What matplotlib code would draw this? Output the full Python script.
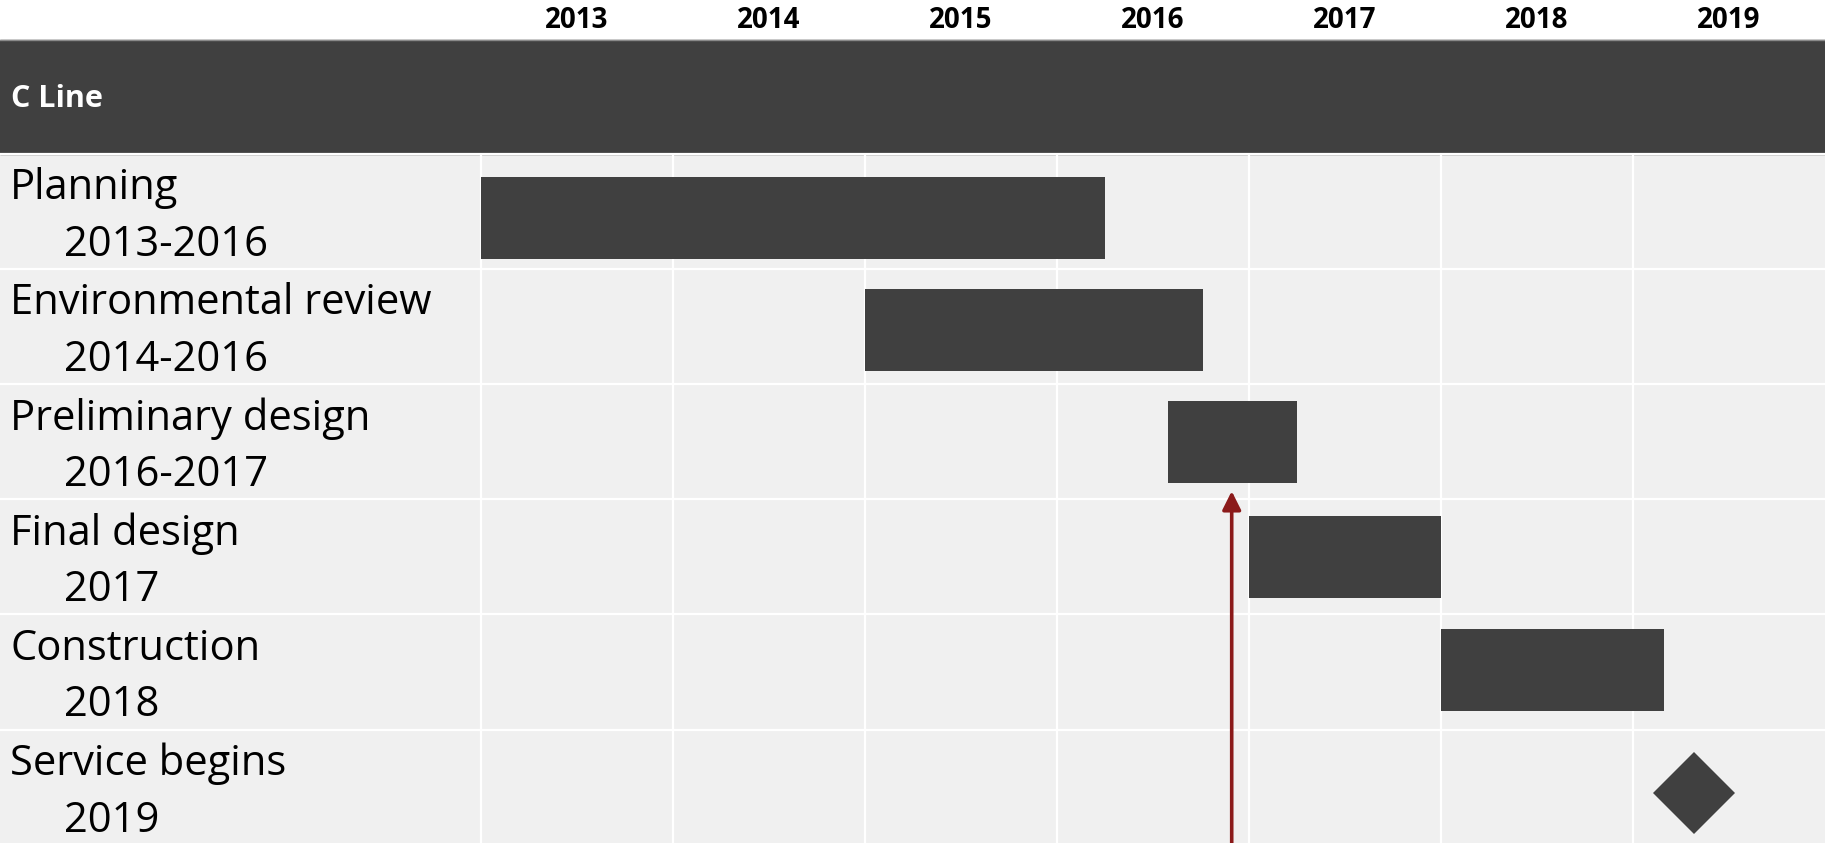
import matplotlib.pyplot as plt

plt.rcParams['font.family'] = ['Open Sans', 'DejaVu Sans']

# //////////DADOS/////////
years = [2013, 2014, 2015, 2016, 2017, 2018, 2019]
tasks = ["Planning", "Environmental review", "Preliminary design",
         "Final design", "Construction", "Service begins"]
periods = ["2013-2016", "2014-2016", "2016-2017", "2017", "2018", "2019"]
starts = [2013.0, 2015.0, 2016.58, 2017.0, 2018.0]
ends = [2016.25, 2016.76, 2017.25, 2018.0, 2019.16]
milestone = 2019.32
today = 2016.91
project = "C Line"

dark = '#404040'
bg = '#f0f0f0'

# pequeno deslocamento vertical de cada barra dentro da linha (layout)
bar_nudge = [0.06, 0.03, 0.0, 0.0, -0.02]

fig = plt.figure(figsize=(18.25, 8.43), dpi=100)
ax = fig.add_axes([0, 0, 1, 1])
ax.set_xlim(2010.495, 2020.0)
ax.set_ylim(5.984, -1.333)
ax.axis('off')

# fundo e faixa do titulo
ax.axhspan(0, 7, color=bg, zorder=0)
ax.axhspan(-0.99, 0, color=dark, zorder=1)
ax.axhline(-0.99, color='#8a8a8a', linewidth=1, zorder=2)

# linhas de grade
for i in range(len(tasks) + 1):
    ax.axhline(i, color='white', linewidth=1.6, zorder=1)
ax.vlines(years, 0, 7, color='white', linewidth=1.6, zorder=1)

# anos
for y in years:
    ax.text(y + 0.5, -1.155, str(y), ha='center', va='center',
            fontsize=20, fontweight='bold', color='black')

ax.text(2010.495 + 11 / 192, -0.47, project, ha='left', va='center',
        fontsize=22, fontweight='bold', color='white', zorder=3)

# rotulos das tarefas
for i, (t, p) in enumerate(zip(tasks, periods)):
    ax.text(2010.495 + 10 / 192, i + 0.30, t, ha='left', va='center',
            fontsize=30, color='black')
    ax.text(2010.495 + 64 / 192, i + 0.79, p, ha='left', va='center',
            fontsize=30, color='black')

# barras
rows = [i + 0.5 + n for i, n in enumerate(bar_nudge)]
widths = [e - s for s, e in zip(starts, ends)]
ax.barh(rows, widths, left=starts, height=0.71, color=dark, zorder=3)

# marco
ax.plot(milestone, len(tasks) - 0.45, 'D', color=dark, markersize=42,
        markeredgewidth=0, zorder=3)

# seta de hoje
ax.annotate('', xy=(today, 2.93), xytext=(today, 6.3),
            arrowprops=dict(arrowstyle='-|>', color='#8b1a1a', lw=2.6,
                            mutation_scale=28, shrinkA=0, shrinkB=0),
            zorder=4)

fig.savefig('out.png', dpi=100)
